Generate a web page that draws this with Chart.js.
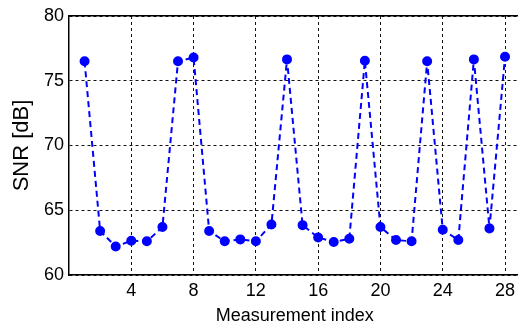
<!DOCTYPE html>
<html>
<head>
<meta charset="utf-8">
<script src="https://cdn.jsdelivr.net/npm/chart.js@4"></script>
<style>
  html, body { margin: 0; padding: 0; background: #fff; overflow: hidden; }
  #wrap { width: 530px; height: 327px; }
</style>
</head>
<body>
<div id="wrap"><canvas id="snrChart" width="530" height="327"></canvas></div>
<script>
const measurementIndex = [1, 2, 3, 4, 5, 6, 7, 8, 9, 10, 11, 12, 13, 14,
  15, 16, 17, 18, 19, 20, 21, 22, 23, 24, 25, 26, 27, 28];
const snrValues = [76.5, 63.4, 62.2, 62.65, 62.6, 63.7, 76.5, 76.8, 63.4, 62.6,
  62.75, 62.6, 63.9, 76.65, 63.85, 62.9, 62.55, 62.8, 76.55, 63.7, 62.7, 62.6,
  76.5, 63.5, 62.7, 76.65, 63.6, 76.85];
const xTicks = [4, 8, 12, 16, 20, 24, 28];
const yTicks = [60, 65, 70, 75, 80];

const FONT = "'Liberation Sans', Arial, sans-serif";

const points = measurementIndex.map((x, i) => ({ x: x, y: snrValues[i] }));

const ctx = document.getElementById("snrChart").getContext("2d");
new Chart(ctx, {
  type: "line",
  data: {
    datasets: [{
      data: points,
      borderColor: "#0000ff",
      backgroundColor: "#0000ff",
      borderWidth: 2,
      borderDash: [6, 4],
      pointRadius: 4,
      pointBackgroundColor: "#0000ff",
      pointBorderColor: "#0000ff",
      tension: 0,
      clip: false
    }]
  },
  options: {
    responsive: false,
    animation: false,
    events: [],
    layout: { padding: { left: 0, top: 16, right: 9.4, bottom: 0 } },
    plugins: { legend: { display: false }, tooltip: { enabled: false } },
    scales: {
      x: {
        type: "linear",
        min: 0,
        max: 29,
        afterBuildTicks: (s) => { s.ticks = xTicks.map(v => ({ value: v })); },
        afterFit: (s) => { s.height = 52; },
        grid: { color: "#111", lineWidth: 1, drawTicks: false },
        border: { display: true, color: "#000", width: 1.5, dash: [3, 3] },
        ticks: { color: "#000", font: { family: FONT, size: 18 }, padding: 5 },
        title: {
          display: true, text: "Measurement index", color: "#000",
          font: { family: FONT, size: 18 }, padding: { top: 0, bottom: 0 }
        }
      },
      x2: {
        type: "linear",
        position: "top",
        min: 0,
        max: 29,
        afterFit: (s) => { s.height = 0; },
        grid: { display: false, drawTicks: false },
        border: { display: true, color: "#000", width: 1.5 },
        ticks: { display: false }
      },
      y: {
        min: 60,
        max: 80,
        afterBuildTicks: (s) => { s.ticks = yTicks.map(v => ({ value: v })); },
        afterFit: (s) => { s.width = 69; },
        grid: { color: "#111", lineWidth: 1, drawTicks: false },
        border: { display: true, color: "#000", width: 1.5, dash: [3, 3] },
        ticks: { color: "#000", font: { family: FONT, size: 18 }, padding: 5 },
        title: {
          display: true, text: "SNR [dB]", color: "#000",
          font: { family: FONT, size: 22 }, padding: { top: 9, bottom: 0 }
        }
      }
    }
  }
});
</script>
</body>
</html>
